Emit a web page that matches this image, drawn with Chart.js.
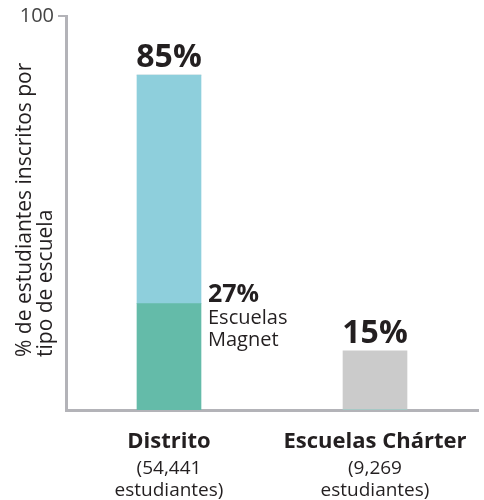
<!DOCTYPE html>
<html>
<head>
<meta charset="utf-8">
<script src="https://cdn.jsdelivr.net/npm/chart.js"></script>
<style>
  html, body { margin: 0; padding: 0; background: #fff; }
  #wrap { width: 484px; height: 500px; position: relative; }
</style>
</head>
<body>
<div id="wrap"><canvas id="chart"></canvas></div>
<script>
// categorías y valores
const categories = ['Distrito', 'Escuelas Chárter'];
const enrollment = [['(54,441', 'estudiantes)'], ['(9,269', 'estudiantes)']];
const magnetPct = [27, 0];
const restPct = [58, 0];
const charterPct = [0, 15];
const totals = [85, 15];
const yTicks = [0, 100];
const yTitle = ['% de estudiantes inscritos por', 'tipo de escuela'];

const FONT = '"Open Sans", "Noto Sans", sans-serif';
const TXT = '#231f20';
const AXIS = '#b3b3b8';

// etiquetas de valores y título del eje Y (alineado a la izquierda)
const valueLabels = {
  id: 'valueLabels',
  afterDatasetsDraw(chart) {
    const ctx = chart.ctx;
    ctx.save();
    ctx.fillStyle = TXT;
    ctx.textBaseline = 'alphabetic';
    // total encima de cada barra
    totals.forEach((t, i) => {
      const ds = i === 0 ? 1 : 2;
      const el = chart.getDatasetMeta(ds).data[i];
      ctx.font = 'bold 32px ' + FONT;
      ctx.textAlign = 'center';
      ctx.fillText(t + '%', el.x, el.y - 8);
    });
    // etiqueta magnet al lado
    const m = chart.getDatasetMeta(0).data[0];
    const x = m.x + m.width / 2 + 7;
    ctx.textAlign = 'left';
    ctx.font = 'bold 25px ' + FONT;
    ctx.fillText(magnetPct[0] + '%', x, m.y - 2);
    ctx.font = '20px ' + FONT;
    ctx.fillText('Escuelas', x, m.y + 20);
    ctx.fillText('Magnet', x, m.y + 42);

    // título del eje Y
    const area = chart.chartArea;
    ctx.translate(0, area.bottom - 53);
    ctx.rotate(-Math.PI / 2);
    ctx.font = '21px ' + FONT;
    ctx.fillStyle = TXT;
    ctx.fillText(yTitle[0], 0, 31);
    ctx.fillText(yTitle[1], 0, 52);
    ctx.restore();
  }
};

new Chart(document.getElementById('chart'), {
  type: 'bar',
  data: {
    labels: categories,
    datasets: [
      { label: 'Magnet', data: magnetPct, backgroundColor: '#64bba9' },
      { label: 'Distrito', data: restPct, backgroundColor: '#8ecfdc' },
      { label: 'Chárter', data: charterPct, backgroundColor: '#cbcbcb' }
    ]
  },
  options: {
    responsive: true,
    maintainAspectRatio: false,
    animation: false,
    layout: { padding: { top: 16, right: 6, left: 0, bottom: 0 } },
    datasets: { bar: { barThickness: 64, borderWidth: 0 } },
    plugins: { legend: { display: false }, tooltip: { enabled: false } },
    scales: {
      x: {
        stacked: true,
        grid: { display: false },
        border: { display: true, color: AXIS, width: 3 },
        ticks: { color: TXT, font: { family: FONT, size: 22, weight: 'bold' }, padding: 11 },
        afterFit: s => { s.height = 40; }
      },
      x2: {
        type: 'category',
        position: 'bottom',
        labels: enrollment,
        grid: { display: false },
        border: { display: false },
        ticks: { color: TXT, font: { family: FONT, size: 19, lineHeight: 1.15 }, padding: 0 },
        afterFit: s => { s.height = 50; }
      },
      y: {
        stacked: true,
        min: 0,
        max: 100,
        afterBuildTicks: s => { s.ticks = yTicks.map(v => ({ value: v })); },
        ticks: {
          color: '#444',
          font: { family: FONT, size: 20 },
          padding: 4,
          callback: v => (v === 100 ? '100' : null)
        },
        grid: { drawOnChartArea: false, drawTicks: true, tickLength: 8, color: AXIS, lineWidth: 2 },
        border: { display: true, color: AXIS, width: 3 },
        afterFit: s => { s.width = 66; }
      }
    }
  },
  plugins: [valueLabels]
});
</script>
</body>
</html>
